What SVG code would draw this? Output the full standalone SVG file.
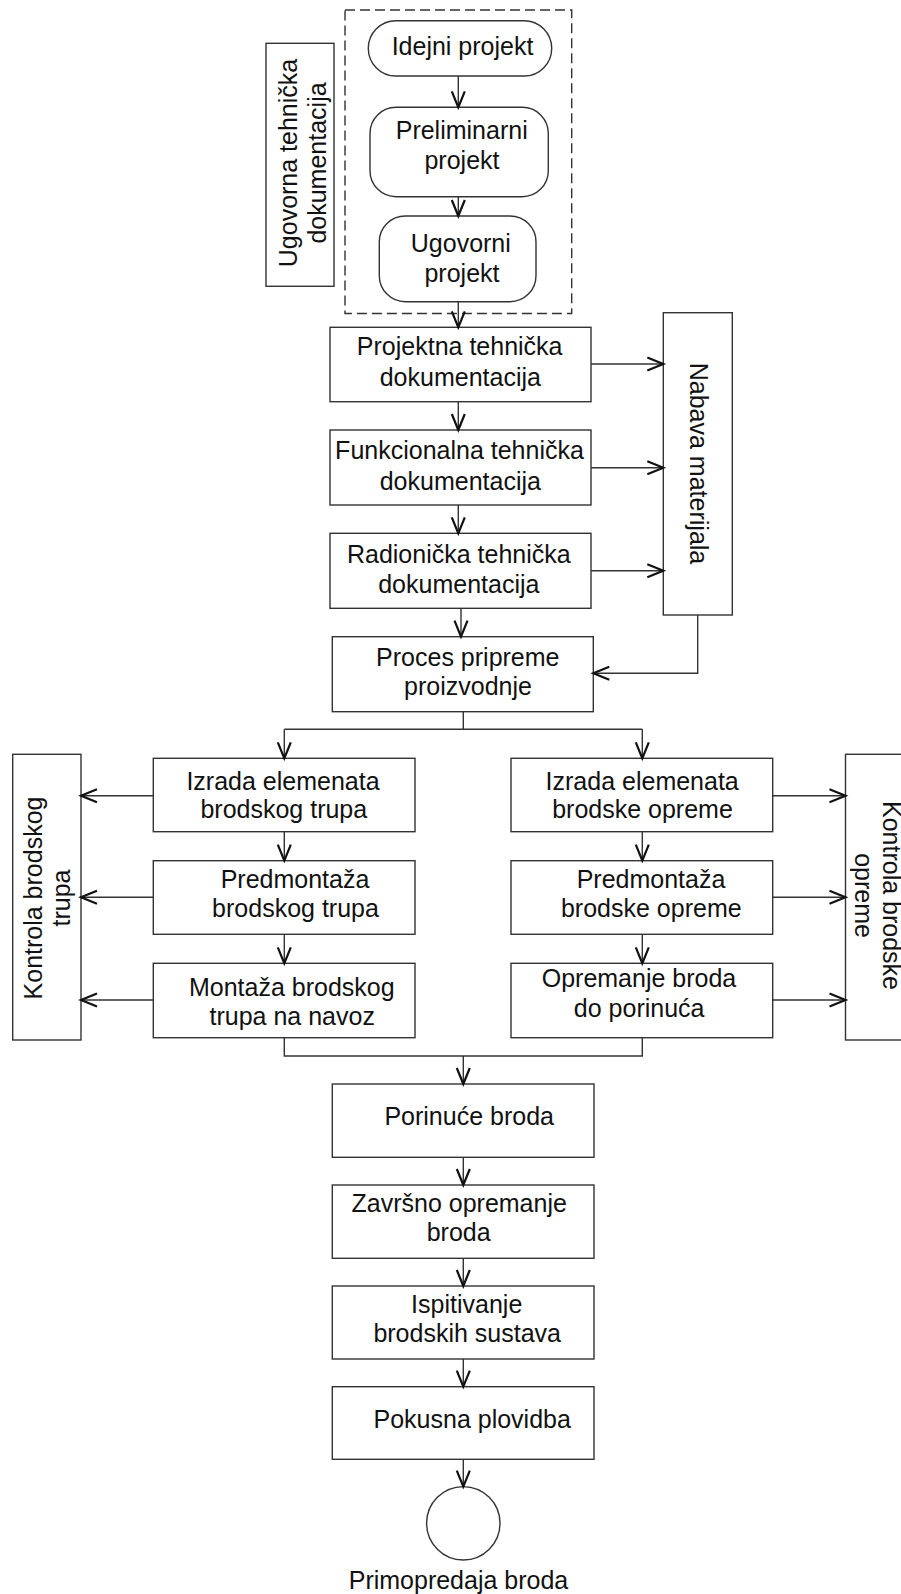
<svg xmlns="http://www.w3.org/2000/svg" width="901" height="1594" viewBox="0 0 901 1594">
<style>
.box{fill:#fff;stroke:#333;stroke-width:1.4}
.dash{fill:none;stroke:#333;stroke-width:1.4;stroke-dasharray:10 5}
.ln{fill:none;stroke:#333;stroke-width:1.4}
.ar{fill:none;stroke:#333;stroke-width:1.4;marker-end:url(#ah)}
text{font-family:"Liberation Sans",Arial,sans-serif;font-size:25px;fill:#111;text-anchor:middle}
</style>
<defs>
<marker id="ah" markerUnits="userSpaceOnUse" viewBox="-18 -8 20 16" refX="0" refY="0" markerWidth="20" markerHeight="16" orient="auto" overflow="visible">
<path d="M-16,-6.5 L0,0 L-16,6.5" fill="none" stroke="#111" stroke-width="2.2"/>
</marker>
</defs>
<g id="group-ugovorna"><rect class="dash" x="345" y="10" width="226.7" height="303.5"/></g>
<g id="n-ugovorna"><rect class="box" x="266" y="43.3" width="68" height="243"/>
<text transform="translate(296.5,163) rotate(-90)">Ugovorna tehnička</text>
<text transform="translate(326,163) rotate(-90)">dokumentacija</text></g>
<g id="n-idejni"><rect class="box" x="368.3" y="20.7" width="183.4" height="55.3" rx="27.6"/><text x="462.5" y="55">Idejni projekt</text></g>
<g id="n-prelim"><rect class="box" x="370" y="107.3" width="178.3" height="89.4" rx="26"/><text x="461.7" y="139">Preliminarni</text><text x="462" y="169">projekt</text></g>
<g id="n-ugovorni"><rect class="box" x="379.3" y="216" width="156.7" height="85.7" rx="26"/><text x="460.8" y="252">Ugovorni</text><text x="462" y="282">projekt</text></g>
<g id="n-projektna"><rect class="box" x="330" y="327.3" width="261" height="74.4"/><text x="459.7" y="355">Projektna tehnička</text><text x="460.3" y="386">dokumentacija</text></g>
<g id="n-funkc"><rect class="box" x="330" y="430" width="261" height="75"/><text x="459.5" y="459">Funkcionalna tehnička</text><text x="460.3" y="489.5">dokumentacija</text></g>
<g id="n-radion"><rect class="box" x="330" y="533.3" width="261" height="75"/><text x="458.8" y="562.7">Radionička tehnička</text><text x="458.8" y="592.7">dokumentacija</text></g>
<g id="n-proces"><rect class="box" x="332.3" y="636.7" width="261" height="75"/><text x="467.8" y="665.7">Proces pripreme</text><text x="468" y="695">proizvodnje</text></g>
<g id="n-nabava"><rect class="box" x="663.3" y="312.7" width="69" height="302.3"/><text transform="translate(690,463.5) rotate(90)">Nabava materijala</text></g>
<g id="n-izrada-trup"><rect class="box" x="153.3" y="758.3" width="261.7" height="73.4"/><text x="283" y="790">Izrada elemenata</text><text x="283.8" y="818.3">brodskog trupa</text></g>
<g id="n-predm-trup"><rect class="box" x="153.3" y="860.7" width="261.7" height="73.6"/><text x="295" y="887.7">Predmontaža</text><text x="295.5" y="917.3">brodskog trupa</text></g>
<g id="n-montaza"><rect class="box" x="153.3" y="963.3" width="261.7" height="74.4"/><text x="291.8" y="996">Montaža brodskog</text><text x="292.2" y="1025">trupa na navoz</text></g>
<g id="n-kontrola-trup"><rect class="box" x="12.7" y="754.3" width="68.3" height="285.7"/>
<text transform="translate(42,898) rotate(-90)">Kontrola brodskog</text>
<text transform="translate(70,898) rotate(-90)">trupa</text></g>
<g id="n-izrada-opr"><rect class="box" x="511" y="758.3" width="261.7" height="73.4"/><text x="642.2" y="790">Izrada elemenata</text><text x="642.5" y="818.3">brodske opreme</text></g>
<g id="n-predm-opr"><rect class="box" x="511" y="860.7" width="261.7" height="73.6"/><text x="651" y="887.7">Predmontaža</text><text x="651.3" y="917.3">brodske opreme</text></g>
<g id="n-opremanje"><rect class="box" x="511" y="963.3" width="261.7" height="74.4"/><text x="639" y="987.3">Opremanje broda</text><text x="639.2" y="1017.3">do porinuća</text></g>
<g id="n-kontrola-opr"><rect class="box" x="845.5" y="754.3" width="69" height="285.7"/>
<text transform="translate(883,895.5) rotate(90)">Kontrola brodske</text>
<text transform="translate(855,895.5) rotate(90)">opreme</text></g>
<g id="n-porinuce"><rect class="box" x="332.3" y="1084" width="261.7" height="73.3"/><text x="469.2" y="1125">Porinuće broda</text></g>
<g id="n-zavrsno"><rect class="box" x="332.3" y="1185" width="261.7" height="73.3"/><text x="459.2" y="1211.7">Završno opremanje</text><text x="458.7" y="1241">broda</text></g>
<g id="n-ispitivanje"><rect class="box" x="332.3" y="1286" width="261.7" height="73"/><text x="466.7" y="1312.7">Ispitivanje</text><text x="467.2" y="1342.3">brodskih sustava</text></g>
<g id="n-pokusna"><rect class="box" x="332.3" y="1386.7" width="261.7" height="72.6"/><text x="472.2" y="1427.7">Pokusna plovidba</text></g>
<g id="n-primopredaja"><circle class="box" cx="463.3" cy="1523.3" r="36.7"/><text x="458.5" y="1589">Primopredaja broda</text></g>
<g id="connectors">
<path class="ar" d="M458.3,76 V107.3"/>
<path class="ar" d="M458.3,196.7 V216"/>
<path class="ar" d="M458.3,301.7 V327.3"/>
<path class="ar" d="M458.3,401.7 V430"/>
<path class="ar" d="M458.3,505 V533.3"/>
<path class="ar" d="M461,608.3 V636.7"/>
<path class="ar" d="M591,364 H663.3"/>
<path class="ar" d="M591,467.7 H663.3"/>
<path class="ar" d="M591,570.7 H663.3"/>
<path class="ar" d="M697.7,615 V673.3 H593.3"/>
<path class="ln" d="M463.3,711.7 V729.3 M284.3,729.3 H642.3"/>
<path class="ar" d="M284.3,729.3 V758.3"/>
<path class="ar" d="M642.3,729.3 V758.3"/>
<path class="ar" d="M284.3,831.7 V860.7"/>
<path class="ar" d="M284.3,934.3 V963.3"/>
<path class="ar" d="M642.3,831.7 V860.7"/>
<path class="ar" d="M642.3,934.3 V963.3"/>
<path class="ar" d="M153.3,795.7 H81"/>
<path class="ar" d="M153.3,897.3 H81"/>
<path class="ar" d="M153.3,1000 H81"/>
<path class="ar" d="M772.7,795.7 H845.5"/>
<path class="ar" d="M772.7,897.3 H845.5"/>
<path class="ar" d="M772.7,1000 H845.5"/>
<path class="ln" d="M284.3,1037.7 V1056 H642.3 V1037.7"/>
<path class="ar" d="M463.3,1056 V1084"/>
<path class="ar" d="M463.3,1157.3 V1185"/>
<path class="ar" d="M463.3,1258.3 V1286"/>
<path class="ar" d="M463.3,1359 V1386.7"/>
<path class="ar" d="M463.3,1459.3 V1486.6"/>
</g>
</svg>
